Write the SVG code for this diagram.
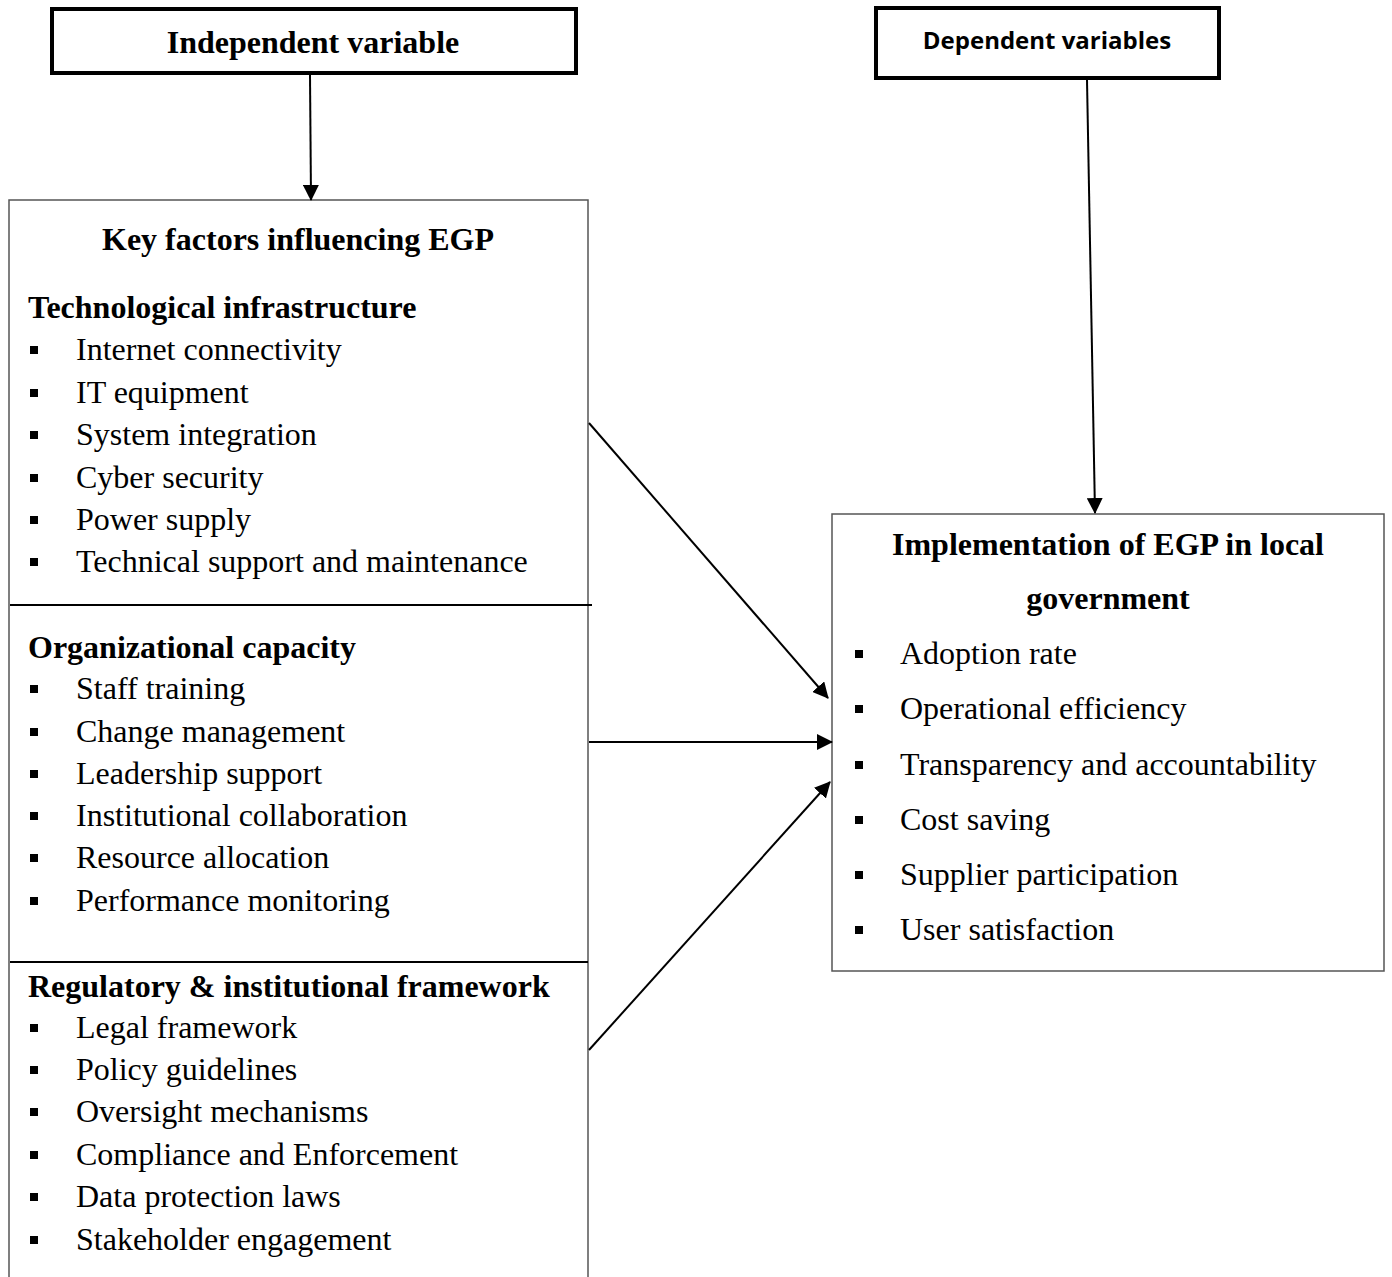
<svg xmlns="http://www.w3.org/2000/svg" width="1392" height="1277" viewBox="0 0 1392 1277">
<defs>
<marker id="ah" viewBox="0 0 16 16" refX="15" refY="8" markerWidth="16" markerHeight="16" markerUnits="userSpaceOnUse" orient="auto">
<path d="M0,0 L16,8 L0,16 z" fill="#000"/>
</marker>
<style>
.t{font-family:"Liberation Serif","Times New Roman",serif;font-size:32px;fill:#000}
.b{font-family:"Liberation Serif","Times New Roman",serif;font-size:32px;font-weight:bold;fill:#000}
.s{font-family:"Open Sans","Noto Sans",sans-serif;font-size:24px;font-weight:bold;fill:#000}
.hb{fill:#fff;stroke:#000;stroke-width:4}
.box{fill:none;stroke:#555;stroke-width:1.5}
.div{stroke:#000;stroke-width:2}
.c{stroke:#000;stroke-width:2;fill:none;marker-end:url(#ah)}
.bl{fill:#000}
</style>
</defs>
<rect width="1392" height="1277" fill="#fff"/>

<g id="independent">
<rect class="hb" x="52" y="9" width="524" height="64"/>
<text class="b" x="313" y="53" text-anchor="middle">Independent variable</text>
</g>

<g id="dependent">
<rect class="hb" x="876" y="8" width="343" height="70"/>
<text class="s" x="1047" y="49" text-anchor="middle">Dependent variables</text>
</g>

<g id="key-factors">
<path class="box" d="M9,1277 V200 H588 V1277"/>
<line class="div" x1="10" y1="605" x2="592" y2="605"/>
<line class="div" x1="10" y1="962" x2="588" y2="962"/>
<text class="b" x="298" y="250" text-anchor="middle">Key factors influencing EGP</text>
<text class="b" x="28" y="318">Technological infrastructure</text>
<g class="bl">
<rect x="30" y="346" width="8" height="8"/>
<rect x="30" y="389" width="8" height="8"/>
<rect x="30" y="431" width="8" height="8"/>
<rect x="30" y="474" width="8" height="8"/>
<rect x="30" y="516" width="8" height="8"/>
<rect x="30" y="558" width="8" height="8"/>
</g>
<text class="t" x="76" y="360">Internet connectivity</text>
<text class="t" x="76" y="403">IT equipment</text>
<text class="t" x="76" y="445">System integration</text>
<text class="t" x="76" y="488">Cyber security</text>
<text class="t" x="76" y="530">Power supply</text>
<text class="t" x="76" y="572">Technical support and maintenance</text>

<text class="b" x="28" y="658">Organizational capacity</text>
<g class="bl">
<rect x="30" y="685" width="8" height="8"/>
<rect x="30" y="728" width="8" height="8"/>
<rect x="30" y="770" width="8" height="8"/>
<rect x="30" y="812" width="8" height="8"/>
<rect x="30" y="854" width="8" height="8"/>
<rect x="30" y="897" width="8" height="8"/>
</g>
<text class="t" x="76" y="699">Staff training</text>
<text class="t" x="76" y="742">Change management</text>
<text class="t" x="76" y="784">Leadership support</text>
<text class="t" x="76" y="826">Institutional collaboration</text>
<text class="t" x="76" y="868">Resource allocation</text>
<text class="t" x="76" y="911">Performance monitoring</text>

<text class="b" x="28" y="997">Regulatory &amp; institutional framework</text>
<g class="bl">
<rect x="30" y="1024" width="8" height="8"/>
<rect x="30" y="1066" width="8" height="8"/>
<rect x="30" y="1108" width="8" height="8"/>
<rect x="30" y="1151" width="8" height="8"/>
<rect x="30" y="1193" width="8" height="8"/>
<rect x="30" y="1236" width="8" height="8"/>
</g>
<text class="t" x="76" y="1038">Legal framework</text>
<text class="t" x="76" y="1080">Policy guidelines</text>
<text class="t" x="76" y="1122">Oversight mechanisms</text>
<text class="t" x="76" y="1165">Compliance and Enforcement</text>
<text class="t" x="76" y="1207">Data protection laws</text>
<text class="t" x="76" y="1250">Stakeholder engagement</text>
</g>

<g id="implementation">
<rect class="box" x="832" y="514" width="552" height="457"/>
<text class="b" x="1108" y="555" text-anchor="middle">Implementation of EGP in local</text>
<text class="b" x="1108" y="609" text-anchor="middle">government</text>
<g class="bl">
<rect x="855" y="650" width="8" height="8"/>
<rect x="855" y="705" width="8" height="8"/>
<rect x="855" y="761" width="8" height="8"/>
<rect x="855" y="816" width="8" height="8"/>
<rect x="855" y="871" width="8" height="8"/>
<rect x="855" y="926" width="8" height="8"/>
</g>
<text class="t" x="900" y="664">Adoption rate</text>
<text class="t" x="900" y="719">Operational efficiency</text>
<text class="t" x="900" y="775">Transparency and accountability</text>
<text class="t" x="900" y="830">Cost saving</text>
<text class="t" x="900" y="885">Supplier participation</text>
<text class="t" x="900" y="940">User satisfaction</text>
</g>

<g id="connectors">
<line class="c" x1="310" y1="75" x2="311" y2="200"/>
<line class="c" x1="1087" y1="80" x2="1095" y2="513"/>
<line class="c" x1="589" y1="423" x2="828" y2="698"/>
<line class="c" x1="589" y1="742" x2="832" y2="742"/>
<line class="c" x1="589" y1="1050" x2="830" y2="782"/>
</g>
</svg>
